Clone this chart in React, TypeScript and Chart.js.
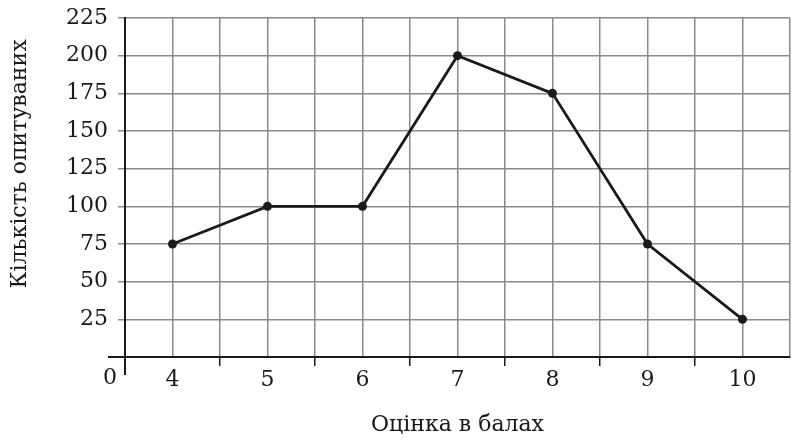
import React, { useEffect, useRef } from "react";
import { Chart, registerables } from "chart.js";

Chart.register(...registerables);

const scores = [4, 5, 6, 7, 8, 9, 10];
const respondents = [75, 100, 100, 200, 175, 75, 25];
const yTickValues = [25, 50, 75, 100, 125, 150, 175, 200, 225];
const xTitle = "Оцінка в балах";
const yTitle = "Кількість опитуваних";

const FONT = "'DejaVu Serif', serif";

export default function App() {
  const ref = useRef<HTMLCanvasElement | null>(null);

  useEffect(() => {
    document.body.style.margin = "0";
    const canvas = ref.current;
    if (!canvas) return;

    const extras = {
      id: "extras",
      afterDraw(chart: any) {
        const { ctx, chartArea, scales } = chart;
        const y0 = scales.y.getPixelForValue(0);
        const x0 = chartArea.left;
        ctx.save();
        ctx.strokeStyle = "#1a1a1a";
        ctx.lineWidth = 2;
        ctx.beginPath();
        ctx.moveTo(108, y0);
        ctx.lineTo(x0, y0);
        ctx.moveTo(x0, y0);
        ctx.lineTo(x0, y0 + 18);
        ctx.stroke();
        ctx.fillStyle = "#1a1a1a";
        ctx.font = `22px ${FONT}`;
        ctx.textAlign = "center";
        ctx.textBaseline = "middle";
        ctx.fillText("0", 110, y0 + 21);
        ctx.fillText(xTitle, (chartArea.left + chartArea.right) / 2, 425);
        ctx.translate(20, 164);
        ctx.rotate(-Math.PI / 2);
        ctx.fillText(yTitle, 0, 0);
        ctx.restore();
      },
    };

    const chart = new Chart(canvas, {
      type: "line",
      data: {
        datasets: [
          {
            data: scores.map((s, i) => ({ x: s, y: respondents[i] })),
            borderColor: "#1a1a1a",
            backgroundColor: "#1a1a1a",
            borderWidth: 2.8,
            pointRadius: 4.5,
            pointBackgroundColor: "#1a1a1a",
            pointBorderWidth: 0,
            tension: 0,
          },
        ],
      },
      options: {
        responsive: false,
        animation: false,
        layout: { padding: { top: 18, right: 10, left: 0, bottom: 0 } },
        plugins: { legend: { display: false }, tooltip: { enabled: false } },
        scales: {
          x: {
            type: "linear",
            min: 3.5,
            max: 10.5,
            afterFit: (s: any) => {
              s.height = 84;
              s.paddingLeft = 0;
              s.paddingRight = 0;
            },
            afterBuildTicks: (s: any) => {
              const t = [];
              for (let v = 3.5; v <= 10.5 + 1e-9; v += 0.5) t.push({ value: v });
              s.ticks = t;
            },
            ticks: {
              autoSkip: false,
              maxRotation: 0,
              padding: 1,
              color: "#1a1a1a",
              font: { family: FONT, size: 22 },
              callback: (v: any) => (Number.isInteger(v) ? String(v) : ""),
            },
            grid: {
              color: "#8a8a8a",
              lineWidth: 1.5,
              tickLength: 9,
              tickColor: (c: any) => {
                const v = c.tick ? c.tick.value : 0;
                if (Number.isInteger(v) || v === 3.5 || v === 10.5) return "rgba(0,0,0,0)";
                return "#1a1a1a";
              },
            },
            border: { color: "#1a1a1a", width: 2 },
          },
          y: {
            min: 0,
            max: 225,
            afterFit: (s: any) => {
              s.width = 125;
              s.paddingTop = 0;
              s.paddingBottom = 0;
            },
            afterBuildTicks: (s: any) => {
              s.ticks = [{ value: 0 }, ...yTickValues.map((v) => ({ value: v }))];
            },
            ticks: {
              padding: 10,
              color: "#1a1a1a",
              font: { family: FONT, size: 22 },
              callback: (v: any) => (v === 0 ? "" : String(v)),
            },
            grid: {
              color: "#8a8a8a",
              lineWidth: 1.5,
              tickLength: 7,
              tickColor: "#8a8a8a",
            },
            border: { color: "#1a1a1a", width: 2 },
          },
        },
      },
      plugins: [extras],
    } as any);

    return () => chart.destroy();
  }, []);

  return (
    <div style={{ position: "fixed", left: 0, top: 0, width: 800, height: 441, background: "#fff" }}>
      <canvas ref={ref} width={800} height={441} />
    </div>
  );
}
